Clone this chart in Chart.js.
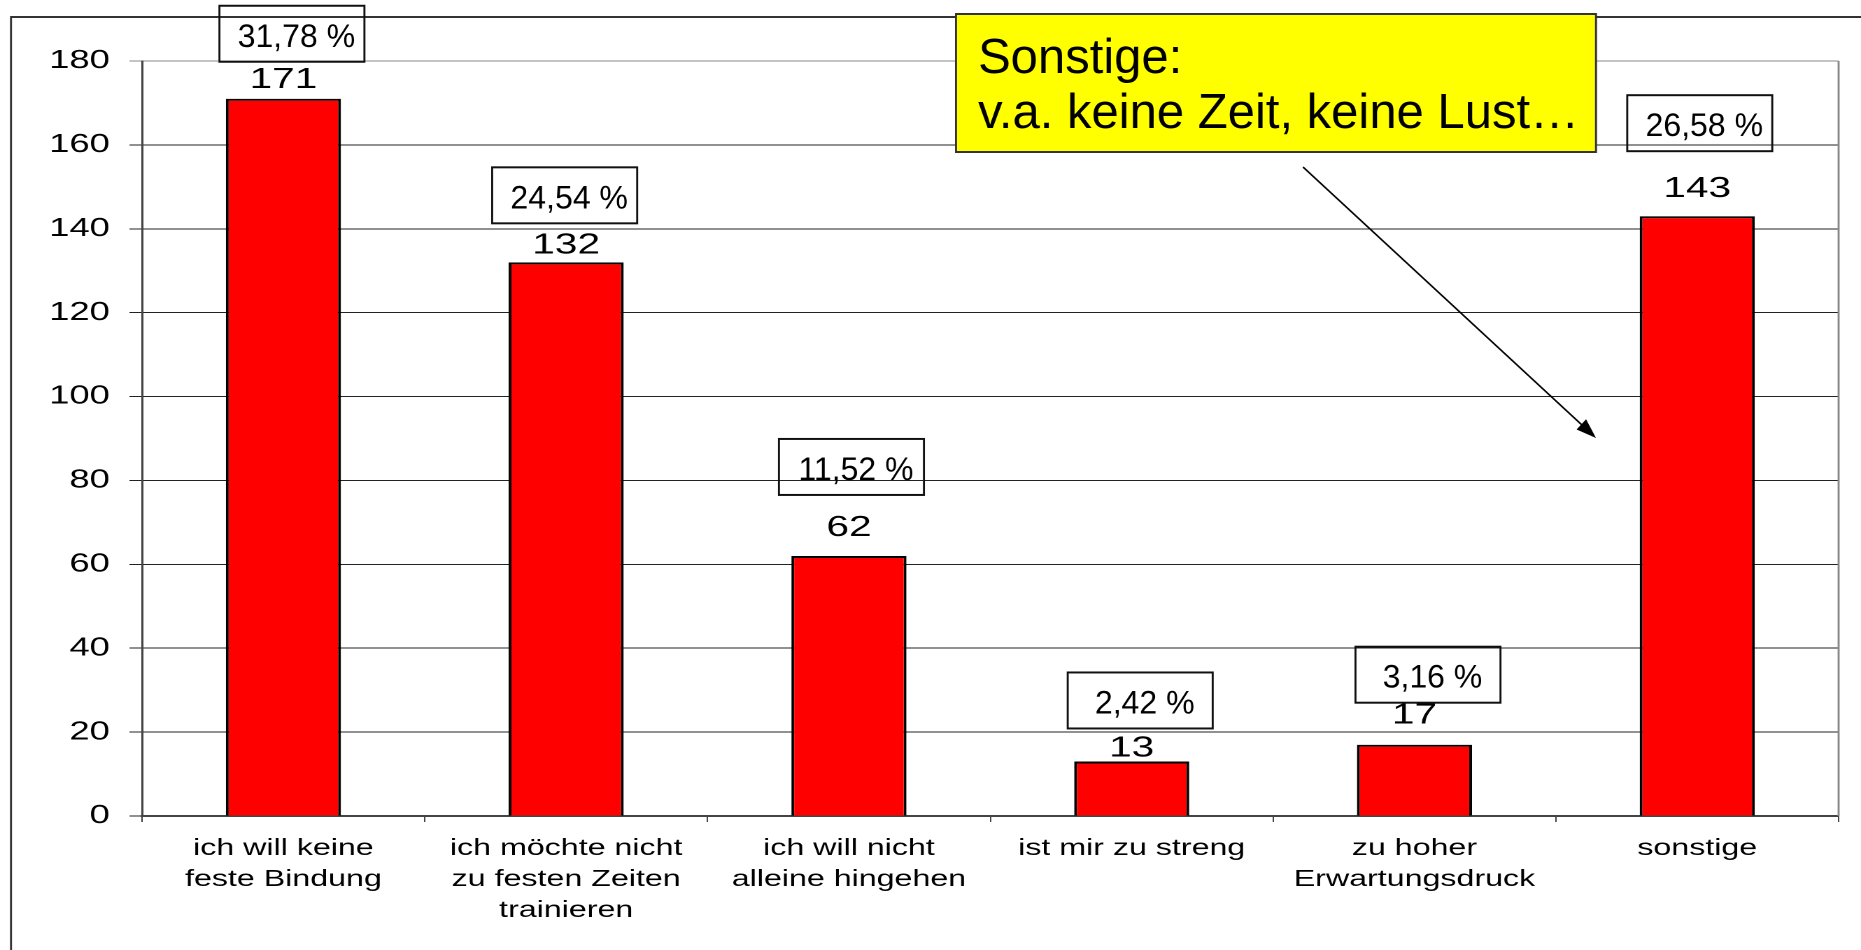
<!DOCTYPE html>
<html>
<head>
<meta charset="utf-8">
<script src="https://cdn.jsdelivr.net/npm/chart.js@4.4.1/dist/chart.umd.min.js"></script>
<style>
  html, body { margin: 0; padding: 0; background: #fff; overflow: hidden; }
  /* the source picture is a slide stretched sideways, so the chart is drawn narrower and widened */
  #wrap { width: 1330px; height: 950px; transform: scaleX(1.39925); transform-origin: 0 0; }
</style>
</head>
<body>
<div id="wrap"><canvas id="reasons"></canvas></div>
<script>
var categories = [
  ["ich will keine", "feste Bindung"],
  ["ich möchte nicht", "zu festen Zeiten", "trainieren"],
  ["ich will nicht", "alleine hingehen"],
  "ist mir zu streng",
  ["zu hoher", "Erwartungsdruck"],
  "sonstige",
];
var counts = [171, 132, 62, 13, 17, 143];
var shares = ["31,78 %", "24,54 %", "11,52 %", "2,42 %", "3,16 %", "26,58 %"];
var yMax = 180;
var yStep = 20;

var note = ["Sonstige:", "v.a. keine Zeit, keine Lust…"];

// label placement, px above the bar top (values) / box shift in page px
var valueLift = [11, 9, 20, 5, 21, 19];
var boxLift = [37, 39, 61, 33, 42, 65];
var boxShift = [8, -2, 2, 8, 13, 2];

var STRETCH = 1861 / 1330;
var FONT = "'Liberation Sans', Arial, Helvetica, sans-serif";

Chart.defaults.font.family = FONT;
Chart.defaults.color = "#000";

var overlay = {
  id: "overlay",
  beforeDraw: function (chart) {
    var ctx = chart.ctx;
    ctx.save();
    ctx.scale(1 / STRETCH, 1);
    ctx.strokeStyle = "#333";
    ctx.lineWidth = 2;
    ctx.strokeRect(11, 17, 1900, 1000);
    ctx.restore();
  },
  afterDatasetsDraw: function (chart) {
    var ctx = chart.ctx;
    var area = chart.chartArea;
    var bars = chart.getDatasetMeta(0).data;

    // value labels, widened with the rest of the chart
    ctx.save();
    ctx.fillStyle = "#000";
    ctx.font = "29px " + FONT;
    ctx.textAlign = "center";
    ctx.textBaseline = "alphabetic";
    bars.forEach(function (bar, i) {
      ctx.fillText(String(counts[i]), bar.x, bar.y - valueLift[i]);
    });
    ctx.restore();

    // everything below is drawn in page pixels (not widened)
    ctx.save();
    ctx.scale(1 / STRETCH, 1);

    // right edge of plot area
    ctx.strokeStyle = "#888";
    ctx.lineWidth = 2;
    ctx.beginPath();
    ctx.moveTo(area.right * STRETCH, area.top);
    ctx.lineTo(area.right * STRETCH, area.bottom);
    ctx.stroke();

    // percentage boxes
    ctx.font = "32px " + FONT;
    ctx.textAlign = "center";
    ctx.textBaseline = "alphabetic";
    bars.forEach(function (bar, i) {
      var cx = bar.x * STRETCH + boxShift[i];
      var bottom = bar.y - boxLift[i];
      ctx.strokeStyle = "#111";
      ctx.lineWidth = 2;
      ctx.strokeRect(cx - 72, bottom - 56, 145, 56);
      ctx.fillStyle = "#000";
      ctx.fillText(shares[i], cx + 5, bottom - 15);
    });

    // yellow note
    ctx.fillStyle = "#ffff00";
    ctx.fillRect(956, 14, 640, 138);
    ctx.strokeStyle = "#333";
    ctx.lineWidth = 2;
    ctx.strokeRect(956, 14, 640, 138);
    ctx.fillStyle = "#000";
    ctx.font = "49px " + FONT;
    ctx.textAlign = "left";
    ctx.fillText(note[0], 978, 73);
    ctx.fillText(note[1], 978, 128);

    // arrow from the note to the last bar
    var x0 = 1303, y0 = 167, x1 = 1596, y1 = 438;
    var ang = Math.atan2(y1 - y0, x1 - x0);
    ctx.strokeStyle = "#000";
    ctx.lineWidth = 1.6;
    ctx.beginPath();
    ctx.moveTo(x0, y0);
    ctx.lineTo(x1 - 14 * Math.cos(ang), y1 - 14 * Math.sin(ang));
    ctx.stroke();
    ctx.beginPath();
    ctx.moveTo(x1, y1);
    ctx.lineTo(x1 - 20 * Math.cos(ang) + 7 * Math.sin(ang), y1 - 20 * Math.sin(ang) - 7 * Math.cos(ang));
    ctx.lineTo(x1 - 20 * Math.cos(ang) - 7 * Math.sin(ang), y1 - 20 * Math.sin(ang) + 7 * Math.cos(ang));
    ctx.closePath();
    ctx.fillStyle = "#000";
    ctx.fill();

    ctx.restore();
  },
};

new Chart(document.getElementById("reasons"), {
  type: "bar",
  data: {
    labels: categories,
    datasets: [
      {
        data: counts,
        backgroundColor: "#ff0000",
        borderColor: "#000",
        borderWidth: 2,
        barPercentage: 0.407,
        categoryPercentage: 1,
      },
    ],
  },
  options: {
    responsive: true,
    maintainAspectRatio: false,
    animation: false,
    devicePixelRatio: 2,
    layout: { padding: { top: 61, right: 16, left: 0, bottom: 0 } },
    plugins: {
      legend: { display: false },
      tooltip: { enabled: false },
    },
    scales: {
      x: {
        afterFit: function (scale) {
          scale.height = 134;
        },
        border: { color: "#444", width: 2 },
        grid: {
          drawOnChartArea: false,
          drawTicks: true,
          tickLength: 6,
          color: "#444",
        },
        ticks: {
          autoSkip: false,
          maxRotation: 0,
          padding: 11,
          font: { size: 23, lineHeight: 1.35 },
        },
      },
      y: {
        min: 0,
        max: yMax,
        afterFit: function (scale) {
          scale.width = 101.5;
        },
        border: { color: "#444", width: 1.5 },
        grid: {
          tickLength: 9,
          color: function (c) {
            return c.tick && c.tick.value === yMax ? "#888" : "#222";
          },
        },
        ticks: {
          stepSize: yStep,
          padding: 14,
          font: { size: 26 },
        },
      },
    },
  },
  plugins: [overlay],
});
</script>
</body>
</html>
